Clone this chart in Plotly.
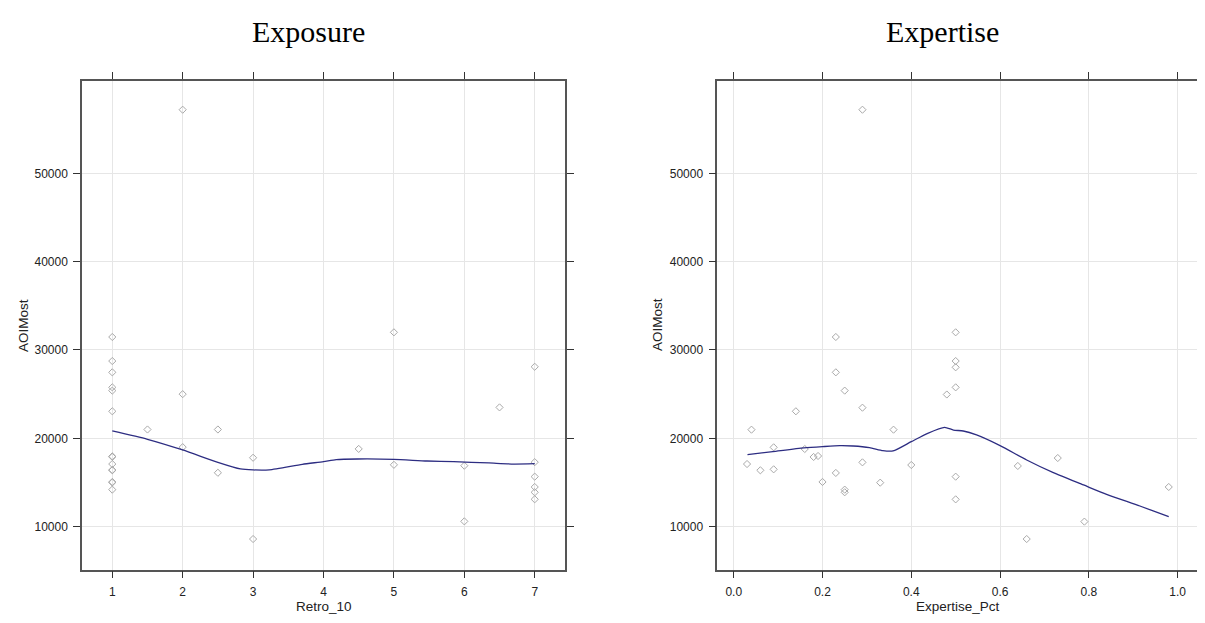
import plotly.graph_objects as go

# ---------------- data ----------------
retro_x = [1, 1, 1, 1, 1, 1, 1, 1, 1, 1, 1, 1, 1, 1,
           1.5, 2, 2, 2, 2.5, 2.5, 3, 3, 4.5, 5, 5, 6, 6, 6.5,
           7, 7, 7, 7, 7, 7]
retro_y = [31470, 28750, 27470, 25770, 25400, 23060, 17960, 17900, 17090,
           16420, 16380, 15060, 15000, 14190,
           21000, 57200, 25000, 19000, 21000, 16100, 17800, 8600, 18800,
           32000, 17000, 16900, 10600, 23500,
           28100, 17300, 15660, 14490, 13890, 13100]

retro_smooth_x = [1, 1.5, 2, 2.5, 2.82, 3, 3.23, 3.7, 4, 4.18, 4.48, 5,
                  5.47, 5.85, 6.35, 6.7, 7]
retro_smooth_y = [20830, 19890, 18680, 17280, 16530, 16420, 16430, 17060,
                  17360, 17590, 17660, 17620, 17430, 17360, 17210, 17090, 17130]

exp_x = [0.03, 0.04, 0.06, 0.09, 0.09, 0.14, 0.16, 0.18, 0.19, 0.20,
         0.23, 0.23, 0.23, 0.25, 0.25, 0.25, 0.29, 0.29, 0.29, 0.33,
         0.36, 0.40, 0.48, 0.50, 0.50, 0.50, 0.50, 0.50, 0.50, 0.64,
         0.66, 0.73, 0.79, 0.98]
exp_y = [17090, 20980, 16380, 18980, 16490, 23060, 18790, 17890, 18000, 15060,
         31470, 27470, 16080, 25400, 14190, 13890, 57200, 23470, 17280, 14980,
         20980, 16980, 24960, 32000, 28750, 28040, 25770, 15660, 13090, 16870,
         8600, 17770, 10570, 14490]

exp_smooth_x = [0.031, 0.088, 0.158, 0.2, 0.239, 0.269, 0.306, 0.336, 0.359,
                0.4, 0.437, 0.475, 0.495, 0.517, 0.547, 0.6, 0.66, 0.72,
                0.788, 0.84, 0.915, 0.98]
exp_smooth_y = [18150, 18490, 18910, 19060, 19170, 19130, 18940, 18600, 18570,
                19620, 20570, 21250, 20940, 20830, 20380, 19170, 17550, 16110,
                14720, 13660, 12340, 11130]

retro_ticks = [1, 2, 3, 4, 5, 6, 7]
exp_ticks = [0.0, 0.2, 0.4, 0.6, 0.8, 1.0]
exp_tick_labels = ["0.0", "0.2", "0.4", "0.6", "0.8", "1.0"]
y_ticks = [10000, 20000, 30000, 40000, 50000]
y_tick_labels = ["10000", "20000", "30000", "40000", "50000"]

titles = ["Exposure", "Expertise"]
x_titles = ["Retro_10", "Expertise_Pct"]
y_title = "AOIMost"

# ---------------- styling ----------------
W, H = 1205, 623
OFF = 8  # page body margin in the browser; positions below are page pixels
PT = "#a9a9a9"
LINE = "#2d2d82"
GRID = "#e6e6e6"
FRAME = "#555555"
SANS = "Liberation Sans, Arial, sans-serif"
SERIF = "Liberation Serif, Times New Roman, serif"


def fx(p):
    return (p - OFF) / W


def fy(p):
    return 1 - (p - OFF) / H


fig = go.Figure()

fig.add_trace(go.Scatter(x=retro_x, y=retro_y, mode="markers",
                         marker=dict(symbol="diamond-open", size=5.5, color=PT,
                                     line=dict(width=1, color=PT)),
                         xaxis="x", yaxis="y", hoverinfo="skip"))
fig.add_trace(go.Scatter(x=retro_smooth_x, y=retro_smooth_y, mode="lines",
                         line=dict(color=LINE, width=1.3, shape="spline", smoothing=0.6),
                         xaxis="x", yaxis="y", hoverinfo="skip"))
fig.add_trace(go.Scatter(x=exp_x, y=exp_y, mode="markers",
                         marker=dict(symbol="diamond-open", size=5.5, color=PT,
                                     line=dict(width=1, color=PT)),
                         xaxis="x2", yaxis="y2", hoverinfo="skip"))
fig.add_trace(go.Scatter(x=exp_smooth_x, y=exp_smooth_y, mode="lines",
                         line=dict(color=LINE, width=1.3, shape="spline", smoothing=0.6),
                         xaxis="x2", yaxis="y2", hoverinfo="skip"))


def ax_common():
    return dict(showgrid=True, gridcolor=GRID, gridwidth=1, zeroline=False,
                showline=True, linecolor=FRAME, linewidth=1.5, mirror="ticks",
                ticks="outside", ticklen=7, tickwidth=1, tickcolor="#333333",
                tickfont=dict(family=SANS, size=12, color="#222222"),
                ticklabelstandoff=3, fixedrange=True)


top, bottom = 81, 569.5
ydom = [fy(bottom), fy(top)]
left1, right1 = 82, 565
left2, right2 = 717.3, 1198.7

fig.update_layout(
    width=W, height=H,
    margin=dict(l=0, r=0, t=0, b=0),
    paper_bgcolor="white", plot_bgcolor="white",
    showlegend=False,
    xaxis=dict(domain=[fx(left1), fx(right1)], range=[0.57, 7.43],
               tickvals=retro_ticks, anchor="y", **ax_common()),
    yaxis=dict(domain=ydom, range=[5150, 60450], tickvals=y_ticks,
               ticktext=y_tick_labels, anchor="x", **ax_common()),
    xaxis2=dict(domain=[fx(left2), fx(right2)], range=[-0.037, 1.0475],
                tickvals=exp_ticks, ticktext=exp_tick_labels, anchor="y2",
                **ax_common()),
    yaxis2=dict(domain=ydom, range=[5150, 60450], tickvals=y_ticks,
                ticktext=y_tick_labels, anchor="x2", **ax_common()),
)

ann = []
for cx, t in zip([308, 942], titles):
    ann.append(dict(text=t, x=fx(cx), y=fy(31), xref="paper", yref="paper",
                    xanchor="center", yanchor="middle", showarrow=False,
                    font=dict(family=SERIF, size=30, color="black")))
for cx, t in zip([(left1 + right1) / 2, (left2 + right2) / 2], x_titles):
    ann.append(dict(text=t, x=fx(cx), y=fy(606), xref="paper", yref="paper",
                    xanchor="center", yanchor="middle", showarrow=False,
                    font=dict(family=SANS, size=13.5, color="#222222")))
for cx in [23, 657]:
    ann.append(dict(text=y_title, x=fx(cx), y=fy(325), xref="paper", yref="paper",
                    xanchor="center", yanchor="middle", showarrow=False, textangle=-90,
                    font=dict(family=SANS, size=13.5, color="#222222")))
fig.update_layout(annotations=ann)

fig.write_html("out.html")
